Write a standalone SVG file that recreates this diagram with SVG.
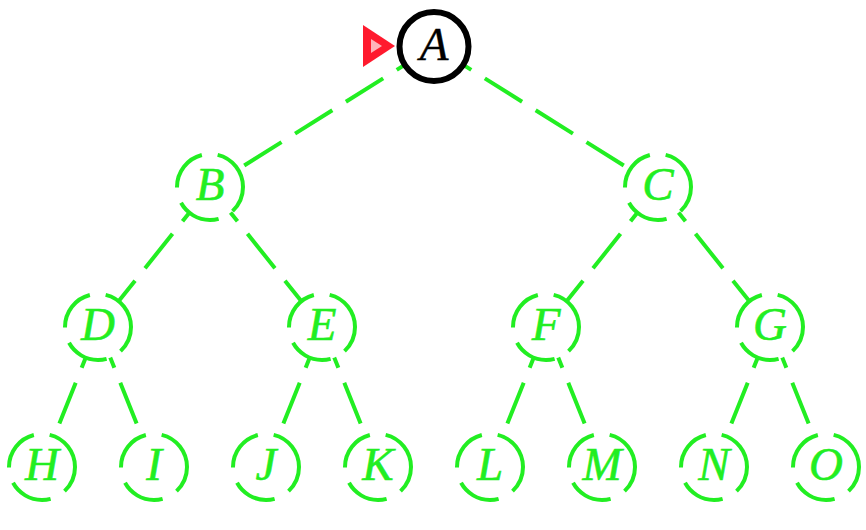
<svg xmlns="http://www.w3.org/2000/svg" width="866" height="530" viewBox="0 0 866 530">
<style>
.edge{stroke:#22ee22;stroke-width:4;stroke-dasharray:44 16;fill:none}
.gn circle{fill:#fff;stroke:#22ee22;stroke-width:4;stroke-dasharray:44 16;stroke-dashoffset:17}
.gn text{fill:#22ee22;stroke:#22ee22;stroke-width:0.6}
text{font-family:"Liberation Serif","Times New Roman",serif;font-style:italic;font-size:47px;text-anchor:middle}
</style>
<rect width="866" height="530" fill="#fff"/>
<g id="edges">
<line class="edge" x1="434" y1="46.5" x2="210" y2="187"/>
<line class="edge" x1="434" y1="46.5" x2="658" y2="187"/>
<line class="edge" x1="210" y1="187" x2="98" y2="327"/>
<line class="edge" x1="210" y1="187" x2="322" y2="327"/>
<line class="edge" x1="658" y1="187" x2="546" y2="327"/>
<line class="edge" x1="658" y1="187" x2="770" y2="327"/>
<line class="edge" x1="98" y1="327" x2="42" y2="467"/>
<line class="edge" x1="98" y1="327" x2="154" y2="467"/>
<line class="edge" x1="322" y1="327" x2="266" y2="467"/>
<line class="edge" x1="322" y1="327" x2="378" y2="467"/>
<line class="edge" x1="546" y1="327" x2="490" y2="467"/>
<line class="edge" x1="546" y1="327" x2="602" y2="467"/>
<line class="edge" x1="770" y1="327" x2="714" y2="467"/>
<line class="edge" x1="770" y1="327" x2="826" y2="467"/>
</g>
<g id="marker">
<polygon points="363,25 395,46 363,67" fill="#ff1a2e"/>
<polygon points="371,39 382,46 371,53" fill="#ffb3bb"/>
</g>
<g id="A"><circle cx="434" cy="46.5" r="34.5" fill="#fff" stroke="#000" stroke-width="6"/><text x="434" y="60" fill="#000" stroke="#000" stroke-width="0.4">A</text></g>
<g id="B" class="gn"><circle cx="210" cy="187" r="33"/><text x="210" y="200">B</text></g>
<g id="C" class="gn"><circle cx="658" cy="187" r="33"/><text x="658" y="200">C</text></g>
<g id="D" class="gn"><circle cx="98" cy="327" r="33"/><text x="98" y="340">D</text></g>
<g id="E" class="gn"><circle cx="322" cy="327" r="33"/><text x="322" y="340">E</text></g>
<g id="F" class="gn"><circle cx="546" cy="327" r="33"/><text x="546" y="340">F</text></g>
<g id="G" class="gn"><circle cx="770" cy="327" r="33"/><text x="770" y="340">G</text></g>
<g id="H" class="gn"><circle cx="42" cy="467" r="33"/><text x="42" y="480">H</text></g>
<g id="I" class="gn"><circle cx="154" cy="467" r="33"/><text x="154" y="480">I</text></g>
<g id="J" class="gn"><circle cx="266" cy="467" r="33"/><text x="266" y="480">J</text></g>
<g id="K" class="gn"><circle cx="378" cy="467" r="33"/><text x="378" y="480">K</text></g>
<g id="L" class="gn"><circle cx="490" cy="467" r="33"/><text x="490" y="480">L</text></g>
<g id="M" class="gn"><circle cx="602" cy="467" r="33"/><text x="602" y="480">M</text></g>
<g id="N" class="gn"><circle cx="714" cy="467" r="33"/><text x="714" y="480">N</text></g>
<g id="O" class="gn"><circle cx="826" cy="467" r="33"/><text x="826" y="480">O</text></g>
</svg>
